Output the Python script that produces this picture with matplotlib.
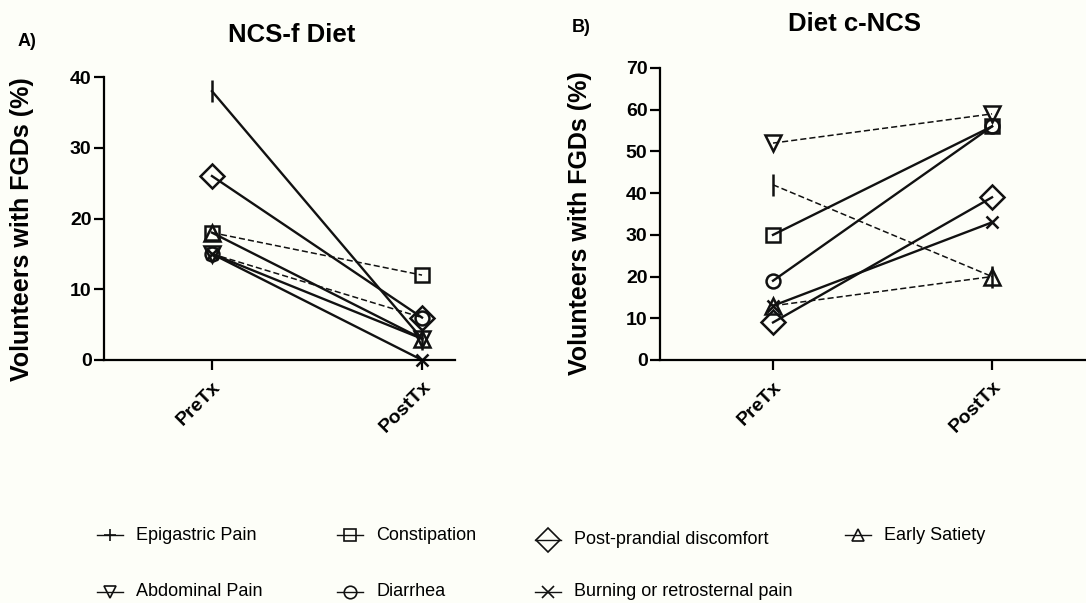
"""Recreate the two-panel pre/post FGD symptom chart (NCS-f vs c-NCS diet)."""

import matplotlib
matplotlib.use("Agg")
import matplotlib.pyplot as plt

BG = "#fdfef8"
INK = "#111111"
W, H = 1086, 603

TIMEPOINTS = ["PreTx", "PostTx"]
SYMPTOMS = [
    "Epigastric Pain", "Constipation", "Post-prandial discomfort",
    "Early Satiety", "Abdominal Pain", "Diarrhea",
    "Burning or retrosternal pain",
]

# -- values (% volunteers, Pre / Post) -----------------------------------------
NCSF_PRE = [38, 18, 26, 18, 15, 15, 15]
NCSF_POST = [3, 12, 6, 3, 3, 6, 0]
CNCS_PRE = [42, 30, 9, 13, 52, 19, 13]
CNCS_POST = [20, 56, 39, 20, 59, 56, 33]

# -- styles -------------------------------------------------------------------
MARKERS = ["|", "s", "D", "^", "v", "o", "x"]
MSIZE = [16, 10, 12, 12, 11, 10, 9]
NCSF_DASHED = [False, True, False, False, False, True, False]
CNCS_DASHED = [True, False, False, True, True, False, False]

# legend slot for each symptom (pixel x of symbol, pixel y of row)
LEG_X = [110, 350, 548, 858, 110, 350, 548]
LEG_Y = [535, 535, 540, 535, 592, 592, 592]

plt.rcParams.update({
    "font.family": ["Liberation Sans", "DejaVu Sans"],
    "axes.linewidth": 1.6,
    "xtick.major.width": 1.6,
    "ytick.major.width": 1.6,
})


def draw_panel(ax, pre, post, dashed, ymax):
    x = [0, 1]
    for i in range(len(SYMPTOMS)):
        if dashed[i]:
            style = dict(linestyle=(0, (4, 2)), linewidth=1.1)
        else:
            style = dict(linestyle="-", linewidth=1.7)
        ax.plot(x, [pre[i], post[i]], color=INK, marker=MARKERS[i],
                markersize=MSIZE[i], markerfacecolor="none",
                markeredgecolor=INK, markeredgewidth=1.8, clip_on=False,
                **style)
    ax.set_facecolor(BG)
    ax.spines["top"].set_visible(False)
    ax.spines["right"].set_visible(False)
    ax.set_ylim(0, ymax)
    ax.set_yticks(range(0, ymax + 1, 10))
    ax.set_xticks(x)
    ax.set_xticklabels(TIMEPOINTS, rotation=45, ha="right",
                       rotation_mode="anchor", fontsize=14, fontweight="bold")
    ax.tick_params(axis="y", labelsize=14, length=7, direction="out", pad=2)
    ax.tick_params(axis="x", length=7, direction="out", pad=6)
    for lab in ax.get_yticklabels():
        lab.set_fontweight("bold")


fig = plt.figure(figsize=(10.86, 6.03), dpi=100, facecolor=BG)

ax_a = fig.add_axes([104 / W, 1 - 360 / H, 351 / W, 283 / H])
ax_a.set_xlim(-0.514, 1.157)
draw_panel(ax_a, NCSF_PRE, NCSF_POST, NCSF_DASHED, 40)

ax_b = fig.add_axes([660 / W, 1 - 360 / H, 426 / W, 292 / H])
ax_b.set_xlim(-0.516, 1.429)
draw_panel(ax_b, CNCS_PRE, CNCS_POST, CNCS_DASHED, 70)

# titles, panel letters and y labels in figure pixel space
ov = fig.add_axes([0, 0, 1, 1], facecolor="none")
ov.set_xlim(0, W)
ov.set_ylim(H, 0)
ov.axis("off")

ov.text(292, 35, "NCS-f Diet", fontsize=18.5, fontweight="bold",
        ha="center", va="center")
ov.text(855, 24, "Diet c-NCS", fontsize=18.5, fontweight="bold",
        ha="center", va="center")
ov.text(18, 41, "A)", fontsize=13, fontweight="bold", va="center")
ov.text(572, 28, "B)", fontsize=13, fontweight="bold", va="center")
ov.text(22, 229, "Volunteers with FGDs (%)", fontsize=18,
        fontweight="bold", rotation=90, ha="center", va="center")
ov.text(580, 223, "Volunteers with FGDs (%)", fontsize=18,
        fontweight="bold", rotation=90, ha="center", va="center")

# legend drawn by hand to keep the reference's irregular slots
for i, name in enumerate(SYMPTOMS):
    lx, ly = LEG_X[i], LEG_Y[i]
    m = "+" if MARKERS[i] == "|" else MARKERS[i]
    ov.plot([lx - 13, lx + 13], [ly, ly], color=INK, linewidth=1.0)
    ov.plot([lx], [ly], marker=m, markersize=12 if m == "D" else 9,
            markerfacecolor="none", markeredgecolor=INK, markeredgewidth=1.2,
            color=INK)
    ov.text(lx + 26, ly, name, fontsize=13, ha="left", va="center")

fig.savefig("out.png", dpi=100, facecolor=BG)
